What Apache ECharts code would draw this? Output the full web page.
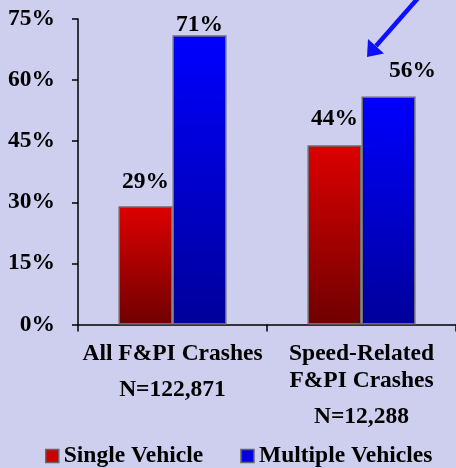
<!DOCTYPE html>
<html>
<head>
<meta charset="utf-8">
<script src="https://cdn.jsdelivr.net/npm/echarts@6/dist/echarts.min.js"></script>
<style>
  html, body { margin: 0; padding: 0; background: #cecfee; }
  #main { width: 456px; height: 468px; }
</style>
</head>
<body>
<div id="main"></div>
<script>
// data
var categories = ["All F&PI Crashes", "Speed-Related\nF&PI Crashes"];
var counts = ["N=122,871", "N=12,288"];
var seriesNames = ["Single Vehicle", "Multiple Vehicles"];
var singleVehicle = [29, 44];
var multipleVehicles = [71, 56];

var font = "'Liberation Serif', 'Times New Roman', serif";
var fs = 23.5;

var myChart = echarts.init(document.getElementById("main"));

function grad(top, bottom) {
  return new echarts.graphic.LinearGradient(0, 0, 0, 1, [
    { offset: 0, color: top },
    { offset: 1, color: bottom }
  ]);
}

var labelBase = {
  show: true,
  position: "top",
  formatter: "{c}%",
  color: "#000",
  fontFamily: font,
  fontWeight: "bold",
  fontSize: fs
};

// per-bar label nudges, the picture does not place them evenly
var singleOffsets = [[0, -7], [0, -9]];
var multiOffsets = [[0, 7], [24, -8]];

var option = {
  backgroundColor: "#cecfee",
  animation: false,
  grid: { left: 78, right: 0, top: 19, bottom: 143.5 },
  legend: {
    bottom: -5,
    left: 40,
    itemWidth: 13,
    itemHeight: 13,
    itemGap: 37,
    icon: "rect",
    textStyle: { color: "#000", fontFamily: font, fontWeight: "bold", fontSize: fs },
    data: [
      { name: seriesNames[0], itemStyle: { color: "#cc0000", borderColor: "#666", borderWidth: 1.5 } },
      { name: seriesNames[1], itemStyle: { color: "#0000e0", borderColor: "#666", borderWidth: 1.5 } }
    ]
  },
  xAxis: {
    type: "category",
    data: categories,
    axisLine: { lineStyle: { color: "#000", width: 1.5 } },
    axisTick: { show: true, length: 7, lineStyle: { color: "#000", width: 1.5 } },
    axisLabel: {
      interval: 0,
      margin: 16,
      formatter: function (v, i) {
        return v.split("\n").map(function (s) { return "{a|" + s + "}"; }).join("\n") + "\n{n|" + counts[i] + "}";
      },
      rich: {
        a: { color: "#000", fontFamily: font, fontWeight: "bold", fontSize: fs, lineHeight: 27 },
        n: { color: "#000", fontFamily: font, fontWeight: "bold", fontSize: fs, lineHeight: 45 }
      }
    }
  },
  yAxis: {
    type: "value",
    min: 0,
    max: 75,
    interval: 15,
    splitLine: { show: false },
    axisLine: { show: true, lineStyle: { color: "#000", width: 1.5 } },
    axisTick: { show: true, length: 6, lineStyle: { color: "#000", width: 1.5 } },
    axisLabel: {
      formatter: "{value}%",
      margin: 23,
      color: "#000",
      fontFamily: font,
      fontWeight: "bold",
      fontSize: fs
    }
  },
  series: [
    {
      name: seriesNames[0],
      type: "bar",
      barWidth: "28.6%",
      barGap: "0%",
      itemStyle: { color: grad("#dd0000", "#700000"), borderColor: "#6e6e6e", borderWidth: 1.5 },
      data: singleVehicle.map(function (v, i) {
        return { value: v, label: Object.assign({}, labelBase, { offset: singleOffsets[i] }) };
      })
    },
    {
      name: seriesNames[1],
      type: "bar",
      barWidth: "28.6%",
      barGap: "0%",
      itemStyle: { color: grad("#0000ff", "#00009a"), borderColor: "#6e6e6e", borderWidth: 1.5 },
      data: multipleVehicles.map(function (v, i) {
        return { value: v, label: Object.assign({}, labelBase, { offset: multiOffsets[i] }) };
      })
    }
  ],
  // pointer arrow at the top right
  graphic: [
    {
      type: "line",
      shape: { x1: 419, y1: -3, x2: 376, y2: 46 },
      style: { stroke: "#0f0fff", lineWidth: 4.5 }
    },
    {
      type: "polygon",
      shape: { points: [[367, 57], [384, 53.5], [368, 39]] },
      style: { fill: "#0f0fff" }
    }
  ]
};

myChart.setOption(option);
</script>
</body>
</html>
